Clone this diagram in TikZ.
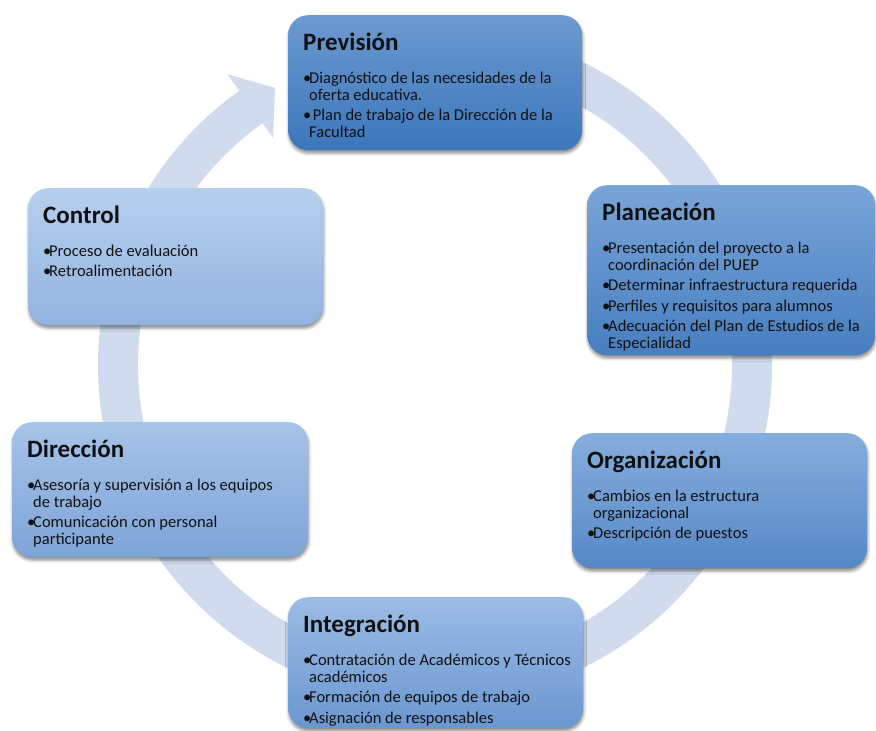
\documentclass[tikz,border=0pt]{standalone}
\usepackage{fontspec}
\setmainfont{Carlito}
\usepackage{xcolor}
\usepackage{tikz}
\usetikzlibrary{shadows.blur}

\definecolor{ringblue}{HTML}{D0DCEE}
\definecolor{prevtop}{HTML}{6C9AD0}
\definecolor{prevbot}{HTML}{3B76BB}
\definecolor{plantop}{HTML}{79A5D8}
\definecolor{planbot}{HTML}{477EC0}
\definecolor{orgatop}{HTML}{85AEDD}
\definecolor{orgabot}{HTML}{5688C6}
\definecolor{intetop}{HTML}{9BBCE5}
\definecolor{intebot}{HTML}{6A97D0}
\definecolor{diretop}{HTML}{A7C3E9}
\definecolor{direbot}{HTML}{7DA4D7}
\definecolor{conttop}{HTML}{B6CFEE}
\definecolor{contbot}{HTML}{92B3DF}
\definecolor{ink}{HTML}{111111}

\newcommand{\stagetext}[4]{%
  \parbox[c][#2][t]{#1}{\raggedright\leftskip=15pt\parindent=0pt
    \rule{0pt}{35pt}{\fontsize{25}{28}\selectfont\bfseries #3}\par
    \vspace{16pt}\fontsize{16.5}{17}\selectfont #4}}
\newcommand{\itm}[1]{\par\hangindent=6pt\hangafter=1\noindent
  \makebox[6pt][l]{\textbullet}#1\par\vspace{3.5pt}}

\begin{document}
\begin{tikzpicture}[x=1pt,y=1pt,
    stage/.style={anchor=north west,inner sep=0pt,rounded corners=20pt,
      text=ink,shading=axis,
      blur shadow={shadow xshift=0.5pt,shadow yshift=-3pt,
        shadow blur radius=3pt,shadow opacity=45}}]
  \useasboundingbox (0,0) rectangle (876,-731);
  % cycle arrow
  \begin{scope}[shift={(435,-365)}]
    \fill[ringblue] (100:337) arc[start angle=100,end angle=-234.5,radius=337]
      -- (125.5:357) -- (120:320) -- (125.5:279) -- (-234.5:297)
      arc[start angle=-234.5,end angle=100,radius=297] -- cycle;
  \end{scope}
  \node[stage,top color=prevtop,bottom color=prevbot] (prevision) at (288,-15)
    {\stagetext{294pt}{135pt}{Previsión}{%
      \itm{Diagnóstico de las necesidades de la\newline oferta educativa.}%
      \itm{\ Plan de trabajo de la Dirección de la\newline Facultad}}};
  \node[stage,top color=plantop,bottom color=planbot] (planeacion) at (587,-185)
    {\stagetext{288pt}{170pt}{Planeación}{%
      \itm{Presentación del proyecto a la\newline coordinación del PUEP}%
      \itm{Determinar infraestructura requerida}%
      \itm{Perfiles y requisitos para alumnos}%
      \itm{Adecuación del Plan de Estudios de la\newline Especialidad}}};
  \node[stage,top color=orgatop,bottom color=orgabot] (organizacion) at (572,-433)
    {\stagetext{295pt}{135pt}{Organización}{%
      \itm{Cambios en la estructura\newline organizacional}%
      \itm{Descripción de puestos}}};
  \node[stage,top color=intetop,bottom color=intebot] (integracion) at (288,-597)
    {\stagetext{295pt}{131pt}{Integración}{%
      \itm{Contratación de Académicos y Técnicos\newline académicos}%
      \itm{Formación de equipos de trabajo}%
      \itm{Asignación de responsables}}};
  \node[stage,top color=diretop,bottom color=direbot] (direccion) at (12,-422)
    {\stagetext{296pt}{135pt}{Dirección}{%
      \itm{Asesoría y supervisión a los equipos\newline de trabajo}%
      \itm{Comunicación con personal\newline participante}}};
  \node[stage,top color=conttop,bottom color=contbot] (control) at (28,-188)
    {\stagetext{295pt}{137pt}{Control}{%
      \itm{Proceso de evaluación}%
      \itm{Retroalimentación}}};
\end{tikzpicture}
\end{document}
